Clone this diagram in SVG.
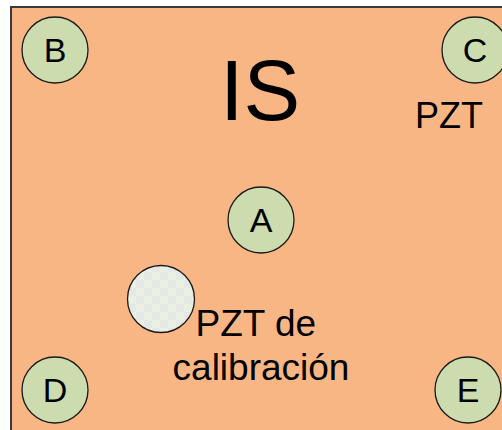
<svg xmlns="http://www.w3.org/2000/svg" width="502" height="430" viewBox="0 0 502 430">
  <defs>
    <style>
      .label { font-family: "Liberation Sans", Arial, sans-serif; fill: #000; }
      .node circle { fill: #CCDCAE; stroke: #1a1a1a; stroke-width: 1.3; }
      .node text { font-size: 34px; text-anchor: middle; }
    </style>
    <pattern id="checker" width="16" height="16" patternUnits="userSpaceOnUse">
      <rect width="16" height="16" fill="#EAF0E2"/>
      <rect width="8" height="8" fill="#E4E9E6"/>
      <rect x="8" y="8" width="8" height="8" fill="#E4E9E6"/>
    </pattern>
  </defs>

  <rect width="502" height="430" fill="#ffffff"/>
  <!-- plate -->
  <rect id="plate" x="11" y="7" width="500" height="440" fill="#F8B684" stroke="#3a3a3a" stroke-width="2"/>

  <text class="label" x="220" y="120" font-size="85">IS</text>
  <text class="label" x="415" y="128" font-size="36">PZT</text>

  <g id="node-B" class="node">
    <circle cx="55" cy="50" r="33"/>
    <text class="label" x="55" y="62">B</text>
  </g>
  <g id="node-C" class="node">
    <circle cx="475" cy="50" r="33"/>
    <text class="label" x="475" y="62">C</text>
  </g>
  <g id="node-A" class="node">
    <circle cx="261" cy="220" r="33"/>
    <text class="label" x="261" y="232">A</text>
  </g>
  <g id="node-D" class="node">
    <circle cx="55" cy="390" r="33"/>
    <text class="label" x="55" y="402">D</text>
  </g>
  <g id="node-E" class="node">
    <circle cx="468" cy="390" r="33"/>
    <text class="label" x="468" y="402">E</text>
  </g>

  <g id="node-calibration">
    <circle cx="161" cy="299" r="33.5" fill="url(#checker)" stroke="#1a1a1a" stroke-width="1.3"/>
    <text class="label" font-size="37" text-anchor="middle">
      <tspan x="261" y="336">PZT de</tspan>
      <tspan x="261" y="380">calibración</tspan>
    </text>
  </g>

  <g id="connectors"/>
</svg>
